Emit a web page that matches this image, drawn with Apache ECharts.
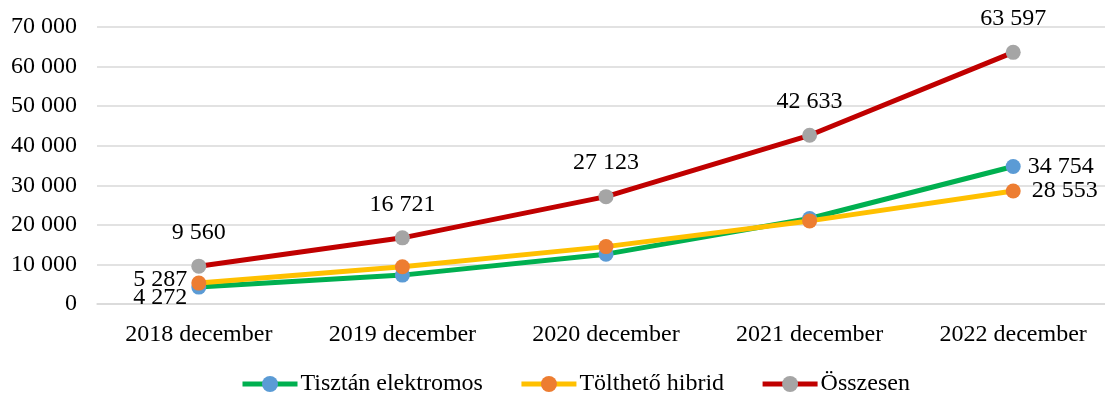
<!DOCTYPE html>
<html>
<head>
    <meta charset="utf-8">
    <script src="https://cdn.jsdelivr.net/npm/echarts@6/dist/echarts.min.js"></script>
    <title>Elektromos autók</title>
    <style>
        html, body { margin: 0; padding: 0; background: #fff; }
    </style>
</head>
<body>
    <div id="main" style="width: 1105px;height:393px;"></div>
    <script type="text/javascript">
    var categories = ['2018 december', '2019 december', '2020 december', '2021 december', '2022 december'];
    var seriesNames = ['Tisztán elektromos', 'Tölthető hibrid', 'Összesen'];
    var elektromos = [4272, 7300, 12600, 21600, 34754];
    var hibrid = [5287, 9400, 14500, 21000, 28553];
    var osszesen = [9560, 16721, 27123, 42633, 63597];
    var yTicks = [0, 10000, 20000, 30000, 40000, 50000, 60000, 70000];

    var font = '"Liberation Serif", "Times New Roman", serif';
    var fmt = function(v){
        return String(v).replace(/\B(?=(\d{3})+(?!\d))/g, ' ');
    };

    // only first and last point labelled for the two parts
    var withLabels = function(arr, first, last){
        return arr.map(function(v, i){
            var item = {value: v};
            if(i === 0) item.label = first;
            else if(i === arr.length - 1) item.label = last;
            return item;
        });
    };

    var lbl = {fontFamily: font, fontSize: 24, color: '#000', formatter: function(p){return fmt(p.value);}};

    var myChart = echarts.init(document.getElementById('main'));
    myChart.setOption({
        animation: false,
        textStyle: {fontFamily: font},
        grid: {left: 97, top: 27, width: 1018, height: 277, outerBoundsMode: 'none'},
        legend: {
            top: 372,
            left: 240,
            padding: 0,
            itemWidth: 55,
            itemHeight: 20,
            itemGap: 36,
            lineStyle: {width: 5},
            textStyle: {fontFamily: font, fontSize: 24, color: '#000', padding: [0, 0, 0, -2]},
            data: seriesNames
        },
        xAxis: {
            type: 'category',
            data: categories,
            axisLine: {lineStyle: {color: '#d9d9d9', width: 1.5}},
            axisTick: {show: false},
            axisLabel: {fontFamily: font, fontSize: 24, color: '#000', margin: 19}
        },
        yAxis: {
            type: 'value',
            min: yTicks[0],
            max: yTicks[yTicks.length - 1],
            interval: 10000,
            axisLine: {show: false},
            axisTick: {show: false},
            splitLine: {lineStyle: {color: '#d9d9d9', width: 1.5}},
            axisLabel: {fontFamily: font, fontSize: 24, color: '#000', margin: 20, formatter: fmt}
        },
        series: [{
            name: seriesNames[0],
            type: 'line',
            symbol: 'circle',
            symbolSize: 15,
            lineStyle: {color: '#00b050', width: 5},
            itemStyle: {color: '#5b9bd5'},
            z: 2,
            label: {show: false},
            data: withLabels(elektromos,
                Object.assign({show: true, position: 'left', distance: 4, offset: [0, 11]}, lbl),
                Object.assign({show: true, position: 'right', distance: 7}, lbl))
        }, {
            name: seriesNames[1],
            type: 'line',
            symbol: 'circle',
            symbolSize: 15,
            lineStyle: {color: '#ffc000', width: 5},
            itemStyle: {color: '#ed7d31'},
            z: 3,
            label: {show: false},
            data: withLabels(hibrid,
                Object.assign({show: true, position: 'left', distance: 4, offset: [0, -3]}, lbl),
                Object.assign({show: true, position: 'right', distance: 11}, lbl))
        }, {
            name: seriesNames[2],
            type: 'line',
            symbol: 'circle',
            symbolSize: 15,
            lineStyle: {color: '#c00000', width: 5},
            itemStyle: {color: '#a5a5a5'},
            z: 4,
            label: Object.assign({show: true, position: 'top', distance: 14}, lbl),
            data: osszesen
        }]
    });
    </script>
</body>
</html>
